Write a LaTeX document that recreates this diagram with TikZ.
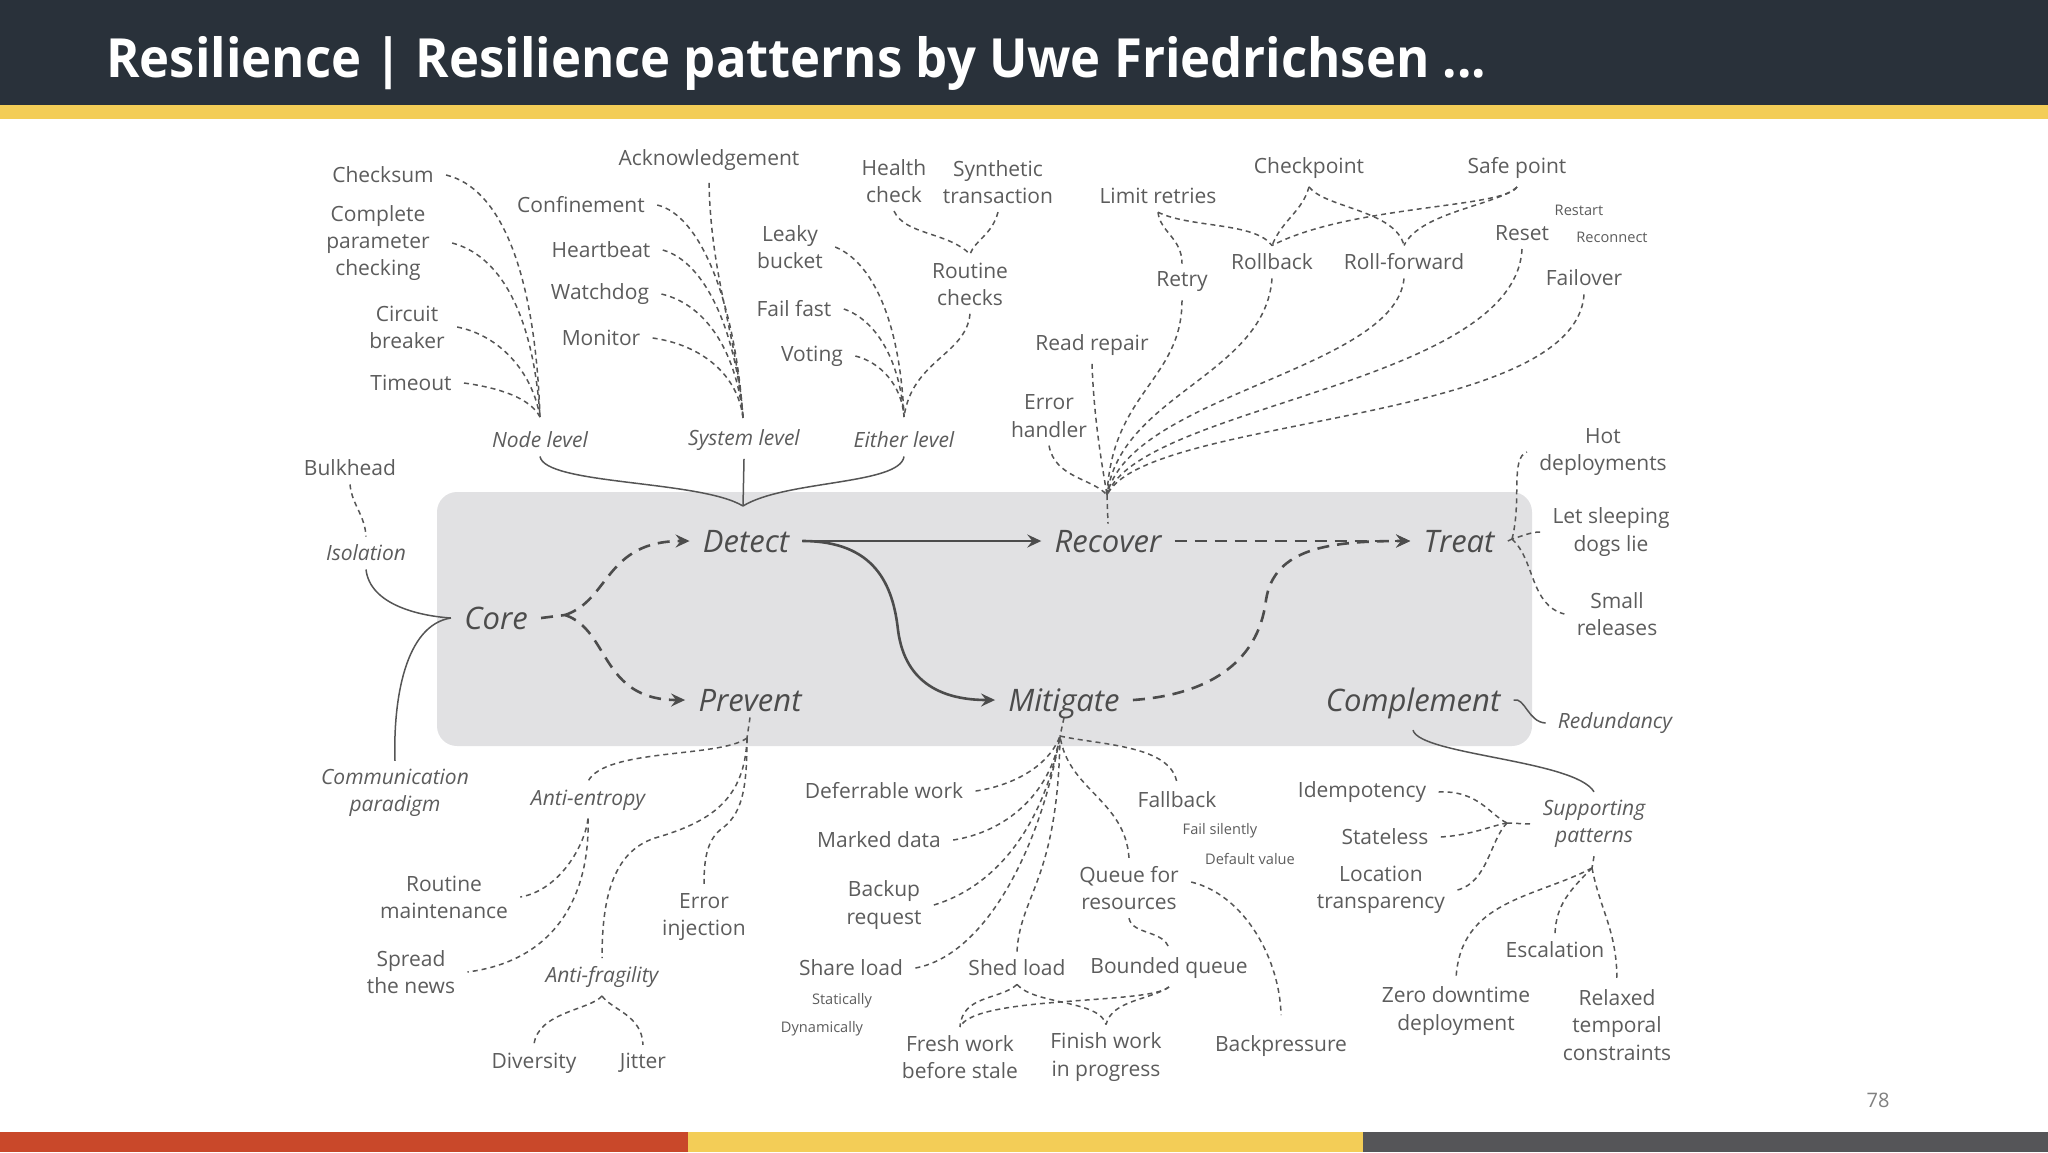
\documentclass[tikz,border=0pt]{standalone}
\usepackage{fontspec}
\setmainfont{Open Sans}
\usepackage{graphicx}
\usetikzlibrary{arrows.meta}
\definecolor{hdr}{HTML}{29313A}
\definecolor{ylw}{HTML}{F3CD57}
\definecolor{rd}{HTML}{C9482A}
\definecolor{dg}{HTML}{555558}
\definecolor{boxg}{HTML}{E1E1E3}
\definecolor{txt}{HTML}{5C5C5C}
\definecolor{mtxt}{HTML}{4C4C4C}
\definecolor{ln}{HTML}{555555}
\newcommand{\lblsize}{\fontsize{10.5}{13.6}\selectfont}
\newcommand{\smlsize}{\fontsize{7.3}{9}\selectfont}
\newcommand{\bigsize}{\fontsize{15.5}{18}\selectfont}
\begin{document}
\begin{tikzpicture}[x=0.5pt,y=-0.5pt,
  lbl/.style={font=\lblsize, text=txt, align=center, inner xsep=6pt, inner ysep=4pt},
  ilbl/.style={lbl, font=\lblsize\itshape},
  sml/.style={font=\smlsize, text=txt, inner sep=1pt},
  big/.style={font=\bigsize\itshape, text=mtxt, inner xsep=6.5pt, inner ysep=3pt, text depth=0pt},
  dsh/.style={draw=ln, line width=0.75pt, dash pattern=on 2.5pt off 2pt},
  sld/.style={draw=ln, line width=0.75pt},
  bigline/.style={draw=mtxt, line width=1.3pt},
  bigarr/.style={bigline, -{Stealth[length=7pt,width=6.5pt,inset=2.5pt]}},
  bigdash/.style={bigarr, dash pattern=on 6pt off 4pt},
]
\useasboundingbox (0,0) rectangle (2048,1152);
% frame
\fill[hdr] (0,0) rectangle (2048,105);
\fill[ylw] (0,105) rectangle (2048,119);
\fill[rd] (0,1132) rectangle (688,1152);
\fill[ylw] (688,1132) rectangle (1363,1152);
\fill[dg] (1363,1132) rectangle (2048,1152);
\node[anchor=base west, inner sep=0pt, text=white, font=\fontsize{27}{30}\selectfont\bfseries] (title) at (106,77) {\resizebox{690pt}{\height}{Resilience | Resilience patterns by Uwe Friedrichsen ...}};
\node[font=\fontsize{10}{12}\selectfont, text=gray] (pg) at (1878,1100) {78};
% core box
\fill[boxg, rounded corners=10pt] (437,492) rectangle (1532,746);
% main nodes
\node[big] (core) at (496,618) {Core};
\node[big] (detect) at (746,541) {Detect};
\node[big] (prevent) at (750,700) {Prevent};
\node[big] (recover) at (1108,541) {Recover};
\node[big] (mitigate) at (1064,700) {Mitigate};
\node[big] (treat) at (1459,541) {Treat};
\node[big] (complement) at (1413,700) {Complement};
% detect labels
\node[lbl] (checksum) at (383,175) {Checksum};
\node[lbl] (cpc) at (378,243) {Complete\\parameter\\checking};
\node[lbl] (circuit) at (407,327) {Circuit\\breaker};
\node[lbl] (timeout) at (411,383) {Timeout};
\node[ilbl] (nodelvl) at (540,440) {Node level};
\node[lbl] (ack) at (709,160) {Acknowledgement};
\node[lbl] (conf) at (581,205) {Confinement};
\node[lbl] (heart) at (601,250) {Heartbeat};
\node[lbl] (watch) at (600,294) {Watchdog};
\node[lbl] (monitor) at (601,338) {Monitor};
\node[ilbl] (syslvl) at (744,440) {System level};
\node[lbl] (leaky) at (790,247) {Leaky\\bucket};
\node[lbl] (failfast) at (794,309) {Fail fast};
\node[lbl] (voting) at (812,356) {Voting};
\node[lbl] (health) at (894,181) {Health\\check};
\node[lbl] (synth) at (998,182) {Synthetic\\transaction};
\node[lbl] (rchecks) at (970,284) {Routine\\checks};
\node[ilbl] (eithlvl) at (904,440) {Either level};
% recover labels
\node[lbl] (limit) at (1158,196) {Limit retries};
\node[lbl] (checkp) at (1309,168) {Checkpoint};
\node[lbl] (safept) at (1517,168) {Safe point};
\node[sml] (restart) at (1579,210) {Restart};
\node[sml] (reconn) at (1612,237) {Reconnect};
\node[lbl] (reset) at (1522,233) {Reset};
\node[lbl] (rollback) at (1272,262) {Rollback};
\node[lbl] (rollfwd) at (1404,262) {Roll-forward};
\node[lbl] (retry) at (1182,282) {Retry};
\node[lbl] (failover) at (1584,278) {Failover};
\node[lbl] (readrep) at (1092,345) {Read repair};
\node[lbl] (errh) at (1049,416) {Error\\handler};
% treat labels
\node[lbl] (hot) at (1603,452) {Hot\\deployments};
\node[lbl] (lsd) at (1611,532) {Let sleeping\\dogs lie};
\node[lbl] (small) at (1617,614) {Small\\releases};
\node[ilbl] (redund) at (1615,723) {Redundancy};
% left
\node[lbl] (bulk) at (350,468) {Bulkhead};
\node[ilbl] (iso) at (366,553) {Isolation};
\node[ilbl] (comm) at (395,793) {Communication\\paradigm};
% prevent labels
\node[ilbl] (antient) at (588,800) {Anti-entropy};
\node[lbl] (routmaint) at (444,897) {Routine\\maintenance};
\node[lbl] (spread) at (411,972) {Spread\\the news};
\node[ilbl] (antifrag) at (602,977) {Anti-fragility};
\node[lbl] (errinj) at (704,917) {Error\\injection};
\node[lbl] (divers) at (534,1063) {Diversity};
\node[lbl] (jitter) at (643,1063) {Jitter};
% mitigate labels
\node[lbl] (defer) at (884,791) {Deferrable work};
\node[lbl] (marked) at (879,840) {Marked data};
\node[lbl] (backup) at (884,905) {Backup\\request};
\node[lbl] (share) at (851,968) {Share load};
\node[sml] (stat) at (842,1001) {Statically};
\node[sml] (dyn) at (822,1029) {Dynamically};
\node[lbl] (shed) at (1017,968) {Shed load};
\node[lbl] (bounded) at (1169,968) {Bounded queue};
\node[lbl] (fresh) at (960,1057) {Fresh work\\before stale};
\node[lbl] (finish) at (1106,1057) {Finish work\\in progress};
\node[lbl] (fallback) at (1177,800) {Fallback};
\node[sml] (failsil) at (1220,831) {Fail silently};
\node[sml] (defval) at (1250,859) {Default value};
\node[lbl] (queue) at (1129,888) {Queue for\\resources};
\node[lbl] (backp) at (1281,1046) {Backpressure};
% supporting labels
\node[lbl] (idem) at (1362,792) {Idempotency};
\node[lbl] (stateless) at (1385,837) {Stateless};
\node[lbl] (loctrans) at (1381,890) {Location\\transparency};
\node[ilbl] (supp) at (1594,824) {Supporting\\patterns};
\node[lbl] (escal) at (1555,950) {Escalation};
\node[lbl] (zero) at (1456,1011) {Zero downtime\\deployment};
\node[lbl] (relaxed) at (1617,1025) {Relaxed\\temporal\\constraints};
% ---------- connectors ----------
% node level
\coordinate (nl) at (540,417);
\draw[dsh] (checksum.east) .. controls (500,188) and (535,270) .. (nl);
\draw[dsh] ([xshift=5pt]cpc.east) .. controls (498,255) and (533,310) .. (nl);
\draw[dsh] (circuit.east) .. controls (498,335) and (532,370) .. (nl);
\draw[dsh] (timeout.east) .. controls (500,388) and (530,398) .. (nl);
% system level
\coordinate (sl) at (743,418);
\draw[dsh] ([yshift=-2pt]ack.south) .. controls (711,280) and (738,340) .. (sl);
\draw[dsh] (conf.east) .. controls (700,215) and (735,300) .. (sl);
\draw[dsh] (heart.east) .. controls (705,262) and (736,330) .. (sl);
\draw[dsh] (watch.east) .. controls (708,305) and (737,355) .. (sl);
\draw[dsh] (monitor.east) .. controls (702,345) and (738,375) .. (sl);
% either level
\coordinate (el) at (904,417);
\draw[dsh] (leaky.east) .. controls (872,262) and (900,320) .. (el);
\draw[dsh] (failfast.east) .. controls (876,320) and (900,360) .. (el);
\draw[dsh] (voting.east) .. controls (880,362) and (902,385) .. (el);
\draw[dsh] (rchecks.south) .. controls (966,355) and (912,360) .. (el);
\draw[dsh] (health.south) .. controls (905,235) and (948,232) .. (rchecks.north);
\draw[dsh] (synth.south) .. controls (992,235) and (975,240) .. (rchecks.north);
% brace to detect
\coordinate (bt) at (743,506);
\draw[sld] (nodelvl.south) .. controls (545,485) and (700,480) .. (bt);
\draw[sld] (syslvl.south) -- (bt);
\draw[sld] (eithlvl.south) .. controls (900,485) and (785,480) .. (bt);
% isolation / communication
\draw[dsh] (bulk.south) .. controls (352,505) and (365,515) .. (iso.north);
\draw[sld] (iso.south) .. controls (370,605) and (420,616) .. (core.west);
\draw[sld] (comm.north) .. controls (393,700) and (405,625) .. (core.west);
% core flows
\coordinate (cs) at (565,615);
\draw[bigline, dash pattern=on 6pt off 4pt] (core.east) -- (cs);
\draw[bigdash] (cs) .. controls (610,600) and (605,541) .. (detect.west);
\draw[bigdash] (cs) .. controls (610,630) and (600,700) .. (prevent.west);
\draw[bigarr, line width=1.1pt] (detect.east) -- (recover.west);
\draw[bigarr] (detect.east) .. controls (875,541) and (893,585) .. (898,630) .. controls (905,685) and (945,700) .. (mitigate.west);
\draw[bigdash] (recover.east) -- (treat.west);
\draw[bigdash] (mitigate.east) .. controls (1205,695) and (1258,665) .. (1266,600) .. controls (1274,548) and (1330,541) .. (treat.west);
% treat
\coordinate (tj) at (1512,539);
\draw[dsh] (treat.east) -- (tj);
\draw[dsh] (tj) .. controls (1522,500) and (1510,458) .. (hot.west);
\draw[dsh] (lsd.west) .. controls (1530,532) and (1520,537) .. (tj);
\draw[dsh] (tj) .. controls (1535,560) and (1530,605) .. (small.west);
% complement
\draw[sld] (complement.east) .. controls (1525,697) and (1528,722) .. (redund.west);
\draw[sld] ([yshift=-6pt]complement.south) .. controls (1420,755) and (1575,760) .. (supp.north);
% prevent
\coordinate (pv) at (747,738);
\draw[dsh] (prevent.south) -- (pv);
\draw[dsh] (pv) .. controls (720,758) and (605,748) .. (antient.north);
\draw[dsh] (pv) .. controls (745,800) and (710,822) .. (655,838) .. controls (612,852) and (602,900) .. (antifrag.north);
\draw[dsh] (pv) .. controls (747,790) and (742,815) .. (720,830) .. controls (706,842) and (704,862) .. (errinj.north);
\draw[dsh] (antient.south) .. controls (585,845) and (560,890) .. (routmaint.east);
\draw[dsh] (antient.south) .. controls (590,890) and (560,960) .. (spread.east);
\draw[dsh] (antifrag.south) .. controls (590,1010) and (538,1012) .. (divers.north);
\draw[dsh] (antifrag.south) .. controls (612,1010) and (642,1015) .. (jitter.north);
% mitigate
\coordinate (mg) at (1060,736);
\draw[dsh] (mitigate.south) -- (mg);
\draw[dsh] (defer.east) .. controls (1010,786) and (1048,768) .. (mg);
\draw[dsh] (marked.east) .. controls (1005,832) and (1050,795) .. (mg);
\draw[dsh] (backup.east) .. controls (1000,885) and (1045,820) .. (mg);
\draw[dsh] (share.east) .. controls (985,955) and (1040,850) .. (mg);
\draw[dsh] (shed.north) .. controls (1020,895) and (1058,880) .. (mg);
\draw[dsh] (queue.north) .. controls (1125,800) and (1068,790) .. (mg);
\draw[dsh] (mg) .. controls (1100,745) and (1172,745) .. (fallback.north);
\draw[dsh] (queue.south) .. controls (1132,935) and (1165,930) .. (bounded.north);
\draw[dsh] ([yshift=3pt]queue.east) .. controls (1245,895) and (1280,960) .. ([yshift=6pt]backp.north);
\draw[dsh] (shed.south) .. controls (1000,1000) and (962,995) .. (fresh.north);
\draw[dsh] (shed.south) .. controls (1035,1005) and (1100,1000) .. (finish.north);
\draw[dsh] (bounded.south) .. controls (1150,1005) and (975,995) .. (fresh.north);
\draw[dsh] (bounded.south) .. controls (1150,1000) and (1112,1000) .. (finish.north);
% supporting
\coordinate (spj1) at (1507,823);
\draw[dsh] (idem.east) .. controls (1478,790) and (1490,815) .. (spj1);
\draw[dsh] (stateless.east) .. controls (1472,835) and (1490,826) .. (spj1);
\draw[dsh] (loctrans.east) .. controls (1488,882) and (1490,840) .. (spj1);
\draw[dsh] (spj1) -- (supp.west);
\coordinate (spj2) at (1592,868);
\draw[dsh] (supp.south) -- (spj2);
\draw[dsh] (spj2) .. controls (1535,898) and (1460,900) .. (zero.north);
\draw[dsh] (spj2) .. controls (1570,890) and (1556,905) .. (escal.north);
\draw[dsh] (spj2) .. controls (1600,910) and (1617,930) .. (relaxed.north);
% recover
\coordinate (rc) at (1107,495);
\draw[dsh] (rc) -- (recover.north);
\draw[dsh] (errh.south) .. controls (1055,478) and (1092,478) .. (rc);
\draw[dsh] (readrep.south) .. controls (1094,420) and (1102,465) .. (rc);
\draw[dsh] (retry.south) .. controls (1182,380) and (1112,392) .. (rc);
\draw[dsh] (rollback.south) .. controls (1265,375) and (1120,395) .. (rc);
\draw[dsh] (rollfwd.south) .. controls (1395,370) and (1130,395) .. (rc);
\draw[dsh] (reset.south) .. controls (1515,385) and (1140,405) .. (rc);
\draw[dsh] (failover.south) .. controls (1575,425) and (1145,415) .. (rc);
\draw[dsh] (limit.south) .. controls (1160,232) and (1182,238) .. (retry.north);
\draw[dsh] (limit.south) .. controls (1190,228) and (1255,222) .. (rollback.north);
\draw[dsh] (checkp.south) .. controls (1302,212) and (1282,220) .. (rollback.north);
\draw[dsh] (checkp.south) .. controls (1325,208) and (1395,210) .. (rollfwd.north);
\draw[dsh] (safept.south) .. controls (1505,208) and (1350,205) .. (rollback.north);
\draw[dsh] (safept.south) .. controls (1498,205) and (1420,212) .. (rollfwd.north);
\end{tikzpicture}
\end{document}
